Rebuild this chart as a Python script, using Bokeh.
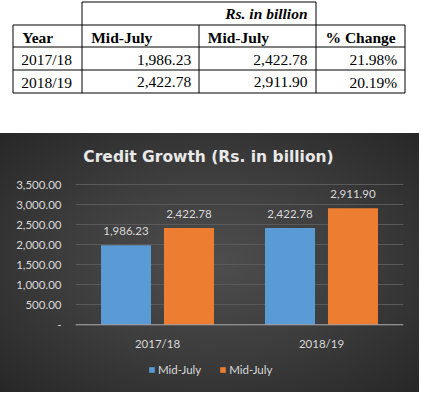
from bokeh.plotting import figure
from bokeh.models import (ColumnDataSource, FactorRange, Range1d, LabelSet, Label,
                          Legend, LegendItem, FixedTicker, Span)
from bokeh.transform import dodge
from bokeh.layouts import column
from bokeh.core.properties import value
from bokeh.embed import file_html
from bokeh.resources import INLINE

# ---------------- data ----------------
years = ["2017/18", "2018/19"]
mid_july_start = [1986.23, 2422.78]
mid_july_end = [2422.78, 2911.90]
pct_change = [21.98, 20.19]
series_names = ["Mid-July", "Mid-July"]
table_headers = ["Year", "Mid-July", "Mid-July", "% Change"]
unit_note = "Rs. in billion"
chart_title = "Credit Growth (Rs. in billion)"
y_ticks = [0, 500, 1000, 1500, 2000, 2500, 3000, 3500]
y_tick_labels = ["-", "500.00", "1,000.00", "1,500.00", "2,000.00",
                 "2,500.00", "3,000.00", "3,500.00"]

fmt = lambda v: f"{v:,.2f}"

# ---------------- table (top) ----------------
t = figure(width=421, height=133, x_range=Range1d(0, 421), y_range=Range1d(133, 0),
           x_axis_type=None, y_axis_type=None, output_backend="svg",
           toolbar_location=None, min_border=0)
t.frame_align = False
t.outline_line_color = None
t.grid.visible = False
t.background_fill_color = "white"
t.border_fill_color = "white"

col_x = [12.5, 81.5, 198.5, 315.5, 404.5]
row_y = [24.5, 46.5, 69.5, 92.5]
head_top = 1.5
hx0, hy0, hx1, hy1 = [], [], [], []
for yy in row_y:
    hx0.append(col_x[0]); hx1.append(col_x[-1]); hy0.append(yy); hy1.append(yy)
hx0.append(col_x[1]); hx1.append(col_x[3]); hy0.append(head_top); hy1.append(head_top)
for xx in col_x:
    hx0.append(xx); hx1.append(xx); hy0.append(row_y[0]); hy1.append(row_y[-1])
for xx in (col_x[1], col_x[3]):
    hx0.append(xx); hx1.append(xx); hy0.append(head_top); hy1.append(row_y[0])
t.segment(x0=hx0, y0=hy0, x1=hx1, y1=hy1, line_color="black", line_width=1)

serif = value("Liberation Serif")
fs = "15.5px"
row_c = [37.0, 59.0, 81.5]
t.text(x=[21.7, 90.7, 207.3, 325], y=[row_c[0]] * 4, text=table_headers,
       text_font=serif, text_font_style="bold", text_font_size=fs,
       text_align="left", text_baseline="middle", text_color="black")
t.text(x=[307], y=[13.3], text=[unit_note],
       text_font=serif, text_font_style="bold italic", text_font_size=fs,
       text_align="right", text_baseline="middle", text_color="black")
t.text(x=[20.7] * 2, y=row_c[1:], text=years, text_font=serif,
       text_font_size=fs, text_align="left", text_baseline="middle", text_color="black")
t.text(x=[190.7] * 2, y=row_c[1:], text=[fmt(v) for v in mid_july_start], text_font=serif,
       text_font_size=fs, text_align="right", text_baseline="middle", text_color="black")
t.text(x=[307] * 2, y=row_c[1:], text=[fmt(v) for v in mid_july_end], text_font=serif,
       text_font_size=fs, text_align="right", text_baseline="middle", text_color="black")
t.text(x=[396.7] * 2, y=row_c[1:], text=[f"{v:.2f}%" for v in pct_change], text_font=serif,
       text_font_size=fs, text_align="right", text_baseline="middle", text_color="black")

# ---------------- chart (bottom) ----------------
src = ColumnDataSource(dict(year=years, a=mid_july_start, b=mid_july_end,
                            a_lbl=[fmt(v) for v in mid_july_start],
                            b_lbl=[fmt(v) for v in mid_july_end],
                            zero=[0] * len(years)))

# 25 value units per pixel: 0 sits 67.7px above the bottom, 3500 sits 51.3px below the top
c = figure(width=419, height=259, x_range=FactorRange(*years, range_padding=0),
           y_range=Range1d(-1692.5, 4782.5), output_backend="svg", toolbar_location=None,
           x_axis_location=None,
           min_border_left=75, min_border_right=16, min_border_top=0, min_border_bottom=0)
c.frame_align = False
c.background_fill_color = None
c.border_fill_color = None
c.styles = {"background": "radial-gradient(ellipse at center, #4e4e4e 0%, #3d3d3d 50%, #272727 100%)"}
c.outline_line_color = None

off = 0.192
bw = 0.305
r1 = c.vbar(x=dodge("year", -off, range=c.x_range), top="a", width=bw, source=src,
            fill_color="#5b9bd5", line_color=None)
r2 = c.vbar(x=dodge("year", off, range=c.x_range), top="b", width=bw, source=src,
            fill_color="#ed7d31", line_color=None)

# baseline (category axis line)
c.add_layout(Span(location=0, dimension="width", line_color="#a6a6a6", line_width=1))

lbl_font = value("Lato")
c.add_layout(LabelSet(x=dodge("year", -off, range=c.x_range), y="a", text="a_lbl", source=src,
                      y_offset=14, text_align="center", text_baseline="middle",
                      text_font=lbl_font, text_font_size="11.5px", text_color="#d9d9d9"))
c.add_layout(LabelSet(x=dodge("year", off, range=c.x_range), y="b", text="b_lbl", source=src,
                      y_offset=14, text_align="center", text_baseline="middle",
                      text_font=lbl_font, text_font_size="11.5px", text_color="#d9d9d9"))
# category labels
c.add_layout(LabelSet(x="year", y="zero", text="year", source=src,
                      y_offset=-19, text_align="center", text_baseline="middle",
                      text_font=lbl_font, text_font_size="11.5px", text_color="#d9d9d9"))

c.add_layout(Label(x=0.811, y=3500, y_offset=28, text=chart_title, text_align="center",
                   text_baseline="middle", text_font="DejaVu Sans", text_font_style="bold",
                   text_font_size="15.5px", text_color="#e8e8e8"))

c.yaxis.ticker = FixedTicker(ticks=y_ticks)
c.yaxis.major_label_overrides = dict(zip(y_ticks, y_tick_labels))
c.yaxis.axis_line_color = None
c.yaxis.major_tick_line_color = None
c.yaxis.minor_tick_line_color = None
c.yaxis.major_tick_out = 0
c.yaxis.major_tick_in = 0
c.yaxis.minor_tick_out = 0
c.yaxis.major_label_standoff = 14
c.yaxis.major_label_text_font = "Lato"
c.yaxis.major_label_text_font_size = "11.5px"
c.yaxis.major_label_text_color = "#d9d9d9"

c.xgrid.grid_line_color = None
c.ygrid.grid_line_color = "#5a5a5a"

legend = Legend(items=[LegendItem(label=series_names[0], renderers=[r1]),
                       LegendItem(label=series_names[1], renderers=[r2])],
                location=(73, 16), orientation="horizontal",
                background_fill_alpha=0, border_line_color=None, padding=0, margin=0,
                spacing=18, glyph_width=7, glyph_height=7, label_standoff=3,
                label_height=14, label_text_color="#d9d9d9", label_text_font="Lato",
                label_text_font_size="11.5px")
c.add_layout(legend)

layout = column(t, c, spacing=0)
open("out.html", "w").write(file_html(layout, INLINE))
